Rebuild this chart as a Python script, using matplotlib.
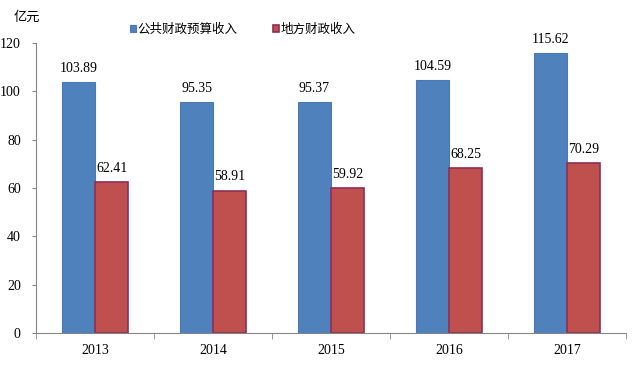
import numpy as np
import matplotlib.pyplot as plt

plt.rcParams['font.family'] = ['Liberation Serif', 'Noto Sans CJK SC']

years = ['2013', '2014', '2015', '2016', '2017']
public_rev = [103.89, 95.35, 95.37, 104.59, 115.62]
local_rev = [62.41, 58.91, 59.92, 68.25, 70.29]
series_names = ['公共财政预算收入', '地方财政收入']

fig = plt.figure(figsize=(6.44, 3.71), dpi=100)
ax = fig.add_axes([0.056, 0.1024, 0.916, 0.782])

x = np.arange(len(years))
w = 0.28
b1 = ax.bar(x - w / 2, public_rev, w, color='#4f81bd', edgecolor='#4a7ab5', linewidth=0.8,
            label=series_names[0])
b2 = ax.bar(x + w / 2, local_rev, w, color='#c0504d', edgecolor='#8e2f56', linewidth=1.2,
            label=series_names[1])

for xi, v in zip(x, public_rev):
    ax.text(xi - w / 2, v + 3, f'{v:.2f}', ha='center', va='bottom', fontsize=10)
for xi, v in zip(x, local_rev):
    ax.text(xi + w / 2, v + 3, f'{v:.2f}', ha='center', va='bottom', fontsize=10)

ax.set_xlim(-0.5, len(years) - 0.5)
ax.set_ylim(0, 120)
ax.set_yticks(range(0, 121, 20))
ax.set_xticks(x)
ax.set_xticklabels(years, fontsize=10)
ax.set_xticks(np.arange(-0.5, len(years)), minor=True)
ax.tick_params(axis='x', which='major', length=0, pad=8)
ax.tick_params(axis='x', which='minor', length=4, color='#868686')
ax.tick_params(axis='y', length=3, direction='out', color='#868686', labelsize=10, pad=8)
for s in ['top', 'right']:
    ax.spines[s].set_visible(False)
for s in ['left', 'bottom']:
    ax.spines[s].set_color('#868686')

fig.text(0.042, 0.953, '亿元', fontsize=9.5, family=['Noto Sans CJK SC'], ha='center', va='center')
fig.legend(handles=[b1, b2], loc='center', bbox_to_anchor=(0.377, 0.92), ncol=2, frameon=False,
           prop={'family': 'Noto Sans CJK SC', 'size': 9}, handlelength=0.5, handleheight=0.5,
           handletextpad=0.15, columnspacing=2.8)

fig.savefig('out.png', dpi=100)
